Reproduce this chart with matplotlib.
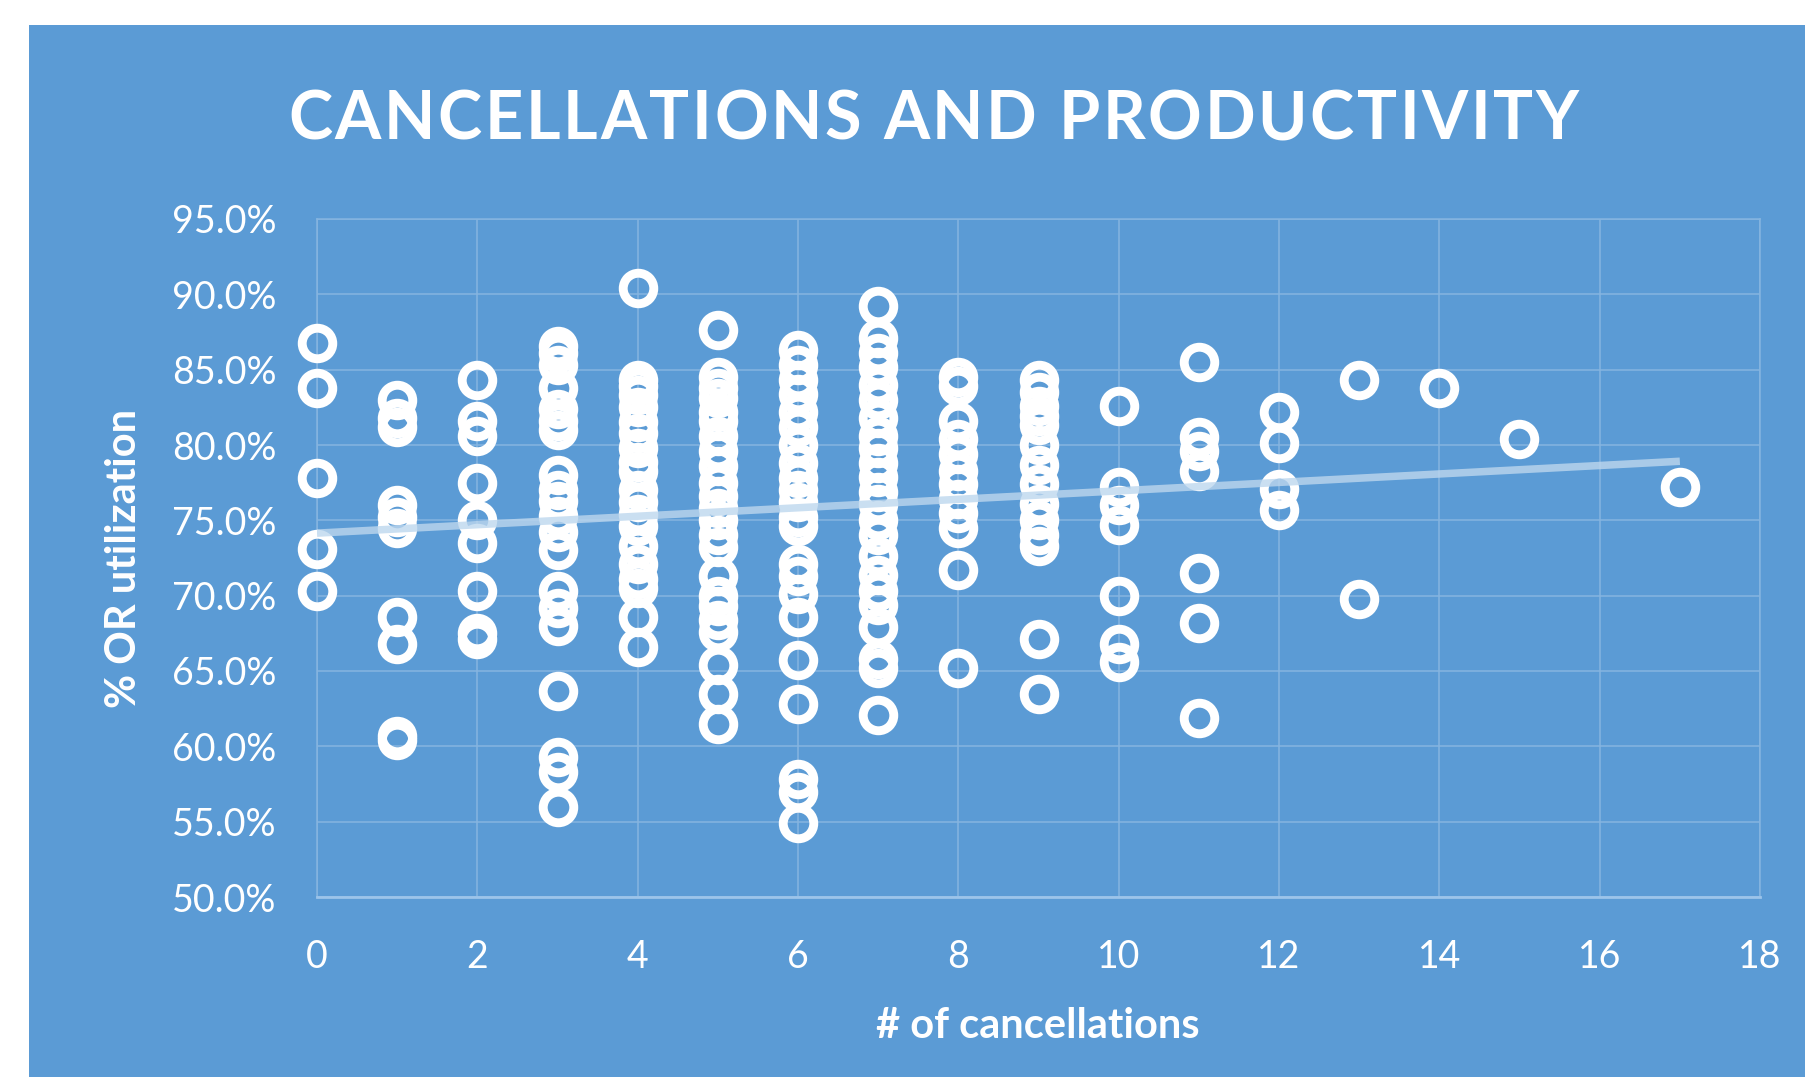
import matplotlib
matplotlib.use("Agg")
import matplotlib.pyplot as plt
from matplotlib.patches import Rectangle
from matplotlib.ticker import FuncFormatter
from matplotlib.font_manager import FontProperties
import numpy as np

# ---- data: % OR utilization grouped by number of cancellations ----
util_0 = [86.8, 83.8, 77.8, 73.1, 70.3]
util_1 = [83.0, 81.8, 81.2, 76.0, 75.2, 74.5, 68.6, 66.8, 60.7, 60.4]
util_2 = [84.3, 81.6, 80.6, 77.5, 75.0, 73.5, 70.3, 67.5, 67.1]
util_3 = [86.6, 86.1, 85.3, 83.8, 82.4, 81.6, 81.0, 78.0, 77.0, 76.3, 75.3,
          74.2, 73.0, 70.3, 69.2, 68.0, 63.7, 59.3, 58.3, 56.0]
util_4 = [90.4, 84.3, 83.9, 83.3, 82.5, 81.5, 80.8, 79.8, 78.9, 78.3, 77.0,
          76.2, 75.4, 74.6, 73.3, 72.1, 71.1, 70.5, 68.6, 66.6]
util_5 = [87.6, 84.5, 83.8, 83.1, 82.2, 81.6, 80.6, 79.6, 78.6, 77.5, 76.6,
          75.8, 75.0, 74.0, 73.2, 71.3, 70.0, 69.3, 68.4, 67.6, 65.4, 63.5, 61.5]
util_6 = [86.3, 85.3, 84.3, 83.4, 82.2, 81.2, 80.0, 78.8, 77.8, 77.0, 76.2,
          75.2, 74.6, 72.1, 71.3, 70.1, 68.6, 65.7, 62.8, 57.8, 57.0, 54.9]
util_7 = [89.2, 87.1, 86.1, 85.2, 84.0, 83.0, 81.8, 80.6, 79.8, 78.8, 77.9,
          76.9, 76.1, 75.0, 74.0, 72.6, 71.4, 70.3, 69.4, 67.9, 65.8, 65.2, 62.1]
util_8 = [84.5, 83.9, 81.6, 80.4, 79.4, 78.3, 77.4, 76.4, 75.5, 74.5, 71.7, 65.2]
util_9 = [84.3, 83.5, 82.6, 81.9, 81.3, 80.0, 78.7, 77.4, 76.1, 75.0, 74.0,
          73.3, 67.1, 63.5]
util_10 = [82.6, 77.2, 76.0, 74.7, 70.0, 66.8, 65.6]
util_11 = [85.5, 80.5, 79.6, 78.3, 71.5, 68.2, 61.9]
util_12 = [82.2, 80.1, 77.1, 75.7]
util_13 = [84.3, 69.8]
util_14 = [83.8]
util_15 = [80.4]
util_17 = [77.2]

cancellation_counts = [0, 1, 2, 3, 4, 5, 6, 7, 8, 9, 10, 11, 12, 13, 14, 15, 17]
groups = [util_0, util_1, util_2, util_3, util_4, util_5, util_6, util_7,
          util_8, util_9, util_10, util_11, util_12, util_13, util_14,
          util_15, util_17]

# linear trendline (intercept in %, slope in % per cancellation)
trend_intercept = 74.15
trend_slope = 0.2806
trend_x = [0, 17]

x_ticks = [0, 2, 4, 6, 8, 10, 12, 14, 16, 18]
y_ticks = [50, 55, 60, 65, 70, 75, 80, 85, 90, 95]

title_text = "CANCELLATIONS AND PRODUCTIVITY"
x_title = "# of cancellations"
y_title = "% OR utilization"

# ---- styling ----
W, H, DPI = 1805, 1077, 100
BLUE = "#5B9BD5"
GRID = "#86B5E0"
FONT = "Lato"

fig = plt.figure(figsize=(W / DPI, H / DPI), dpi=DPI, facecolor="white")
fig.patches.append(Rectangle((29 / W, 0), 1 - 29 / W, 1 - 25 / H,
                             transform=fig.transFigure, facecolor=BLUE,
                             edgecolor="none", zorder=-10))

left, right, top, bottom = 317, 1760, 219, 897
ax = fig.add_axes([left / W, 1 - bottom / H, (right - left) / W, (bottom - top) / H])
ax.set_zorder(2)
ax.set_facecolor("none")
ax.set_xlim(x_ticks[0], x_ticks[-1])
ax.set_ylim(y_ticks[0], y_ticks[-1])
ax.set_xticks(x_ticks)
ax.set_yticks(y_ticks)
ax.yaxis.set_major_formatter(FuncFormatter(lambda v, _: f"{v:.1f}%"))
ax.grid(True, color=GRID, linewidth=1.1, zorder=1)
ax.set_axisbelow(True)
for name, sp in ax.spines.items():
    sp.set_color(GRID)
    sp.set_linewidth(1.1)
ax.spines["bottom"].set_color("#9CC4EA")
ax.spines["bottom"].set_linewidth(2.0)
ax.tick_params(length=0, labelcolor="white", labelsize=27)
ax.tick_params(axis="y", pad=29)
ax.tick_params(axis="x", pad=30)
for lab in ax.get_xticklabels() + ax.get_yticklabels():
    lab.set_fontfamily(FONT)

# scatter of all observations
xs = np.concatenate([[c] * len(g) for c, g in zip(cancellation_counts, groups)])
ys = np.concatenate([np.asarray(g, dtype=float) for g in groups])
ax.plot(xs, ys, linestyle="none", marker="o", markersize=22,
        markerfacecolor="none", markeredgecolor="white", markeredgewidth=6.4,
        zorder=3, clip_on=False)

# trendline
tx = np.array(trend_x, dtype=float)
ax.plot(tx, trend_intercept + trend_slope * tx, color="#BDD7EE", alpha=0.8,
        linewidth=5.4, solid_capstyle="butt", zorder=4)

# axis titles
fig.text(1038 / W, 1 - 1026 / H, x_title, ha="center", va="center",
         color="white", fontsize=30, fontweight="bold", family=FONT)
fig.text(124 / W, 1 - 558 / H, y_title, ha="center", va="center",
         rotation=90, color="white", fontsize=30, fontweight="bold", family=FONT)

# chart title with spaced-out letters
tp = FontProperties(family=FONT, weight="bold", size=48)
renderer = fig.canvas.get_renderer()


def advance(s):
    w, _, _ = renderer.get_text_width_height_descent(s, tp, ismath=False)
    return w


bar_w = advance("||")
widths = [advance("|" + ch + "|") - bar_w for ch in title_text]
title_left, title_right = 288, 1579
spacing = (title_right - title_left - sum(widths)) / (len(title_text) - 1)
cx = title_left
baseline = 1 - 139 / H
for ch, w in zip(title_text, widths):
    fig.text(cx / W, baseline, ch, ha="left", va="baseline", color="white",
             fontproperties=tp)
    cx += w + spacing

fig.savefig("out.png", dpi=DPI, facecolor="white")
